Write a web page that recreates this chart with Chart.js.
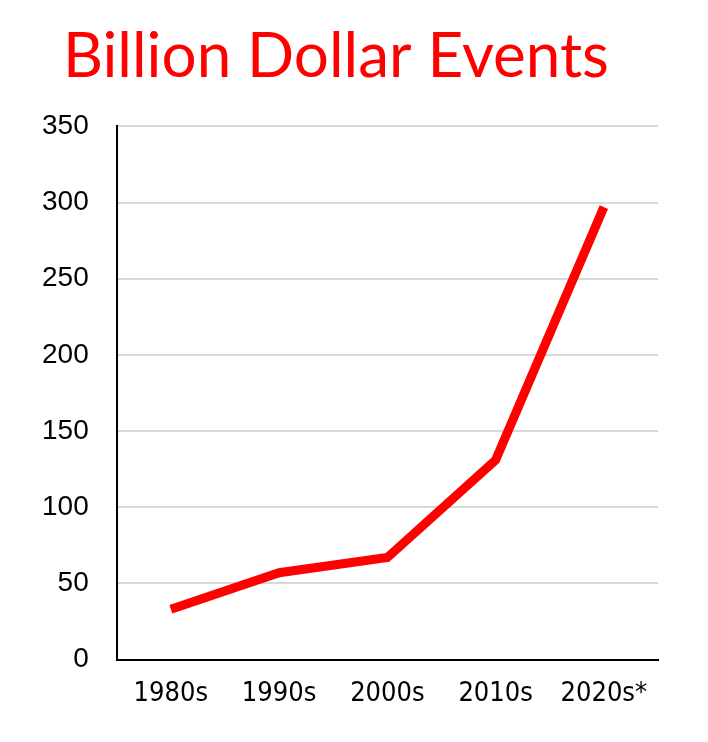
<!DOCTYPE html>
<html>
<head>
<meta charset="utf-8">
<script src="https://cdn.jsdelivr.net/npm/chart.js@4"></script>
<style>
  html, body { margin: 0; padding: 0; background: #fff; }
  #wrap { width: 708px; height: 742px; }
</style>
</head>
<body>
<div id="wrap"><canvas id="c" width="708" height="742"></canvas></div>
<script>
const decades = ['1980s', '1990s', '2000s', '2010s', '2020s*'];
const events = [33, 57, 67, 131, 297];
const yTicks = [0, 50, 100, 150, 200, 250, 300, 350];

new Chart(document.getElementById('c'), {
    type: 'line',
    data: {
        labels: decades,
        datasets: [{
            data: events,
            borderColor: '#ff0000',
            borderWidth: 9,
            pointRadius: 0,
            tension: 0
        }]
    },
    options: {
        responsive: false,
        animation: false,
        layout: { padding: { top: 8, right: 50, left: 14, bottom: 14 } },
        plugins: {
            legend: { display: false },
            tooltip: { enabled: false },
            title: {
                display: true,
                text: 'Billion Dollar Events',
                color: '#ff0000',
                font: { family: 'Lato', size: 62, weight: 'normal' },
                padding: { top: 12, bottom: 32 }
            }
        },
        scales: {
            x: {
                offset: true,
                grid: { display: false, drawTicks: false },
                border: { color: '#000', width: 2 },
                ticks: {
                    color: '#000',
                    padding: 18,
                    font: { family: "'DejaVu Sans Condensed', 'Roboto Condensed', Roboto", size: 27 }
                }
            },
            y: {
                min: 0,
                max: 350,
                afterBuildTicks: axis => { axis.ticks = yTicks.map(v => ({ value: v })); },
                grid: { color: '#d9d9d9', lineWidth: 2, drawTicks: false },
                border: { color: '#000', width: 2 },
                ticks: {
                    color: '#000',
                    padding: 28,
                    font: { family: 'Liberation Sans', size: 28 }
                }
            }
        }
    }
});
</script>
</body>
</html>
